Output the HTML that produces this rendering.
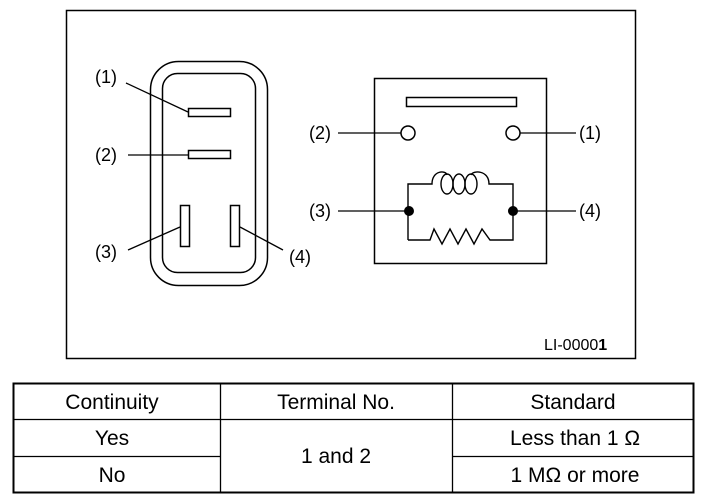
<!DOCTYPE html>
<html><head><style>body{margin:0;background:#fff}svg{display:block}</style></head><body>
<svg width="704" height="504" viewBox="0 0 704 504" xmlns="http://www.w3.org/2000/svg" font-family="Liberation Sans, sans-serif" fill="none" stroke="#000">
<rect x="66.5" y="10.5" width="569" height="348" stroke-width="1.5"/>
<!-- left connector -->
<rect x="150.5" y="61.5" width="117" height="224" rx="28" stroke-width="1.5"/>
<rect x="162.5" y="73.5" width="93" height="199" rx="15" stroke-width="1.5"/>
<rect x="188.5" y="108.5" width="42" height="8" stroke-width="1.5"/>
<rect x="188.5" y="150.5" width="42" height="8" stroke-width="1.5"/>
<rect x="180.5" y="205.5" width="9" height="41" stroke-width="1.5"/>
<rect x="230.5" y="205.5" width="9" height="41" stroke-width="1.5"/>
<line x1="126" y1="83" x2="188" y2="112" stroke-width="1.3"/>
<line x1="128" y1="155" x2="188" y2="155" stroke-width="1.3"/>
<line x1="128" y1="250" x2="180" y2="227" stroke-width="1.3"/>
<line x1="240" y1="227" x2="283" y2="250" stroke-width="1.3"/>
<g fill="#000" stroke="none" font-size="18">
<text x="95" y="83">(1)</text><text x="95" y="161">(2)</text><text x="95" y="258">(3)</text><text x="289" y="263">(4)</text>
</g>
<!-- right relay -->
<rect x="374.5" y="78.5" width="172" height="185" stroke-width="1.5"/>
<rect x="406.5" y="97.5" width="110" height="9" stroke-width="1.5"/>
<circle cx="408" cy="133" r="7" stroke-width="1.5" fill="#fff"/>
<circle cx="513" cy="133" r="7" stroke-width="1.5" fill="#fff"/>
<line x1="338" y1="133" x2="401" y2="133" stroke-width="1.3"/>
<line x1="520" y1="133" x2="576" y2="133" stroke-width="1.3"/>
<line x1="338" y1="211" x2="408" y2="211" stroke-width="1.3"/>
<line x1="513" y1="211" x2="576" y2="211" stroke-width="1.3"/>
<path d="M408 240 V184 H432 C432 170 446 170 447 175 M471 175 C473 170 489 170 489 184 H513 V240 H490 L482 229 L474 244 L466 229 L458 244 L450 229 L442 244 L434 229 L430 240 H408" stroke-width="1.4"/>
<ellipse cx="447" cy="184" rx="6" ry="10" stroke-width="1.4"/>
<ellipse cx="459" cy="184" rx="6" ry="10" stroke-width="1.4"/>
<ellipse cx="471" cy="184" rx="6" ry="10" stroke-width="1.4"/>
<circle cx="409" cy="211" r="5" fill="#000" stroke="none"/>
<circle cx="513" cy="211" r="5" fill="#000" stroke="none"/>
<g fill="#000" stroke="none" font-size="18">
<text x="309" y="139">(2)</text><text x="579" y="139">(1)</text><text x="309" y="217">(3)</text><text x="579" y="217">(4)</text>
<text x="544" y="350" font-size="16">LI-0000<tspan font-weight="bold">1</tspan></text>
</g>
<!-- table -->
<rect x="13.5" y="383.5" width="680" height="109" stroke-width="2"/>
<g stroke-width="1.3">
<line x1="13" y1="419.5" x2="693" y2="419.5"/>
<line x1="13" y1="456.5" x2="220" y2="456.5"/>
<line x1="452" y1="456.5" x2="693" y2="456.5"/>
<line x1="220.5" y1="383" x2="220.5" y2="492"/>
<line x1="452.5" y1="383" x2="452.5" y2="492"/>
</g>
<g fill="#000" stroke="none" font-size="21" text-anchor="middle">
<text x="112" y="409">Continuity</text>
<text x="336" y="409">Terminal No.</text>
<text x="573" y="409">Standard</text>
<text x="112" y="445">Yes</text>
<text x="112" y="482">No</text>
<text x="336" y="463">1 and 2</text>
<text x="575" y="445">Less than 1 Ω</text>
<text x="575" y="482">1 MΩ or more</text>
</g>
</svg>
</body></html>
